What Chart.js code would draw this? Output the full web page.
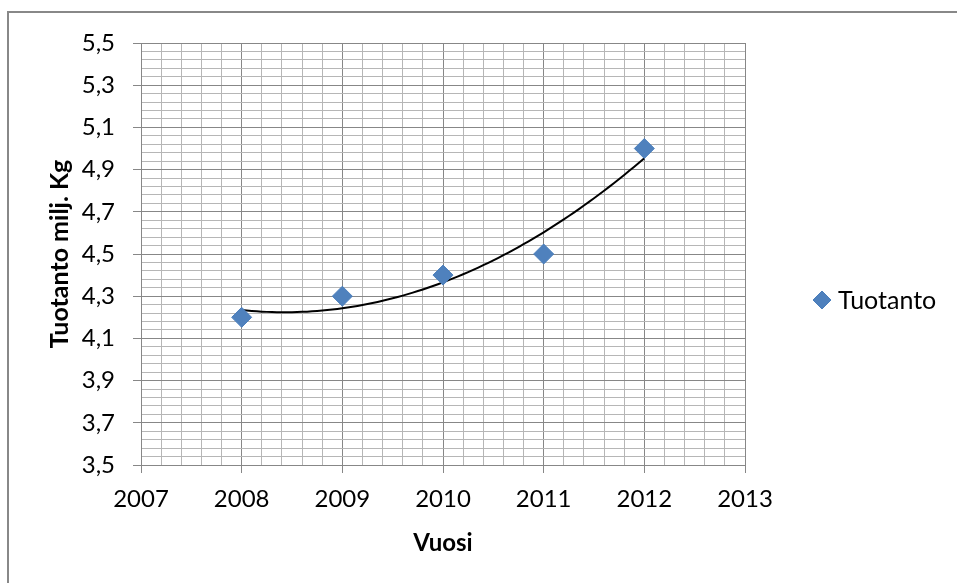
<!DOCTYPE html>
<html>
<head>
<meta charset="utf-8">
<title>Tuotanto</title>
<script src="https://cdn.jsdelivr.net/npm/chart.js@4/dist/chart.umd.min.js"></script>
<style>
  html, body { margin: 0; padding: 0; background: #fff; }
  #wrap { width: 957px; height: 583px; }
</style>
</head>
<body>
<div id="wrap"><canvas id="c" width="957" height="583"></canvas></div>
<script>
// Production by year (million kg)
const years = [2008, 2009, 2010, 2011, 2012];
const production = [4.2, 4.3, 4.4, 4.5, 5.0];
const seriesName = 'Tuotanto';
const xTitle = 'Vuosi';
const yTitle = 'Tuotanto milj. Kg';

const X_MIN = 2007, X_MAX = 2013, X_MAJOR = 1, X_MINOR = 0.2;
const Y_MIN = 3.5, Y_MAX = 5.5, Y_MAJOR = 0.2, Y_MINOR = 0.04;

const FONT = 'Lato, "Open Sans", sans-serif';
const BLUE = '#4F81BD';
const MAJOR = '#878787';
const MINOR = '#B6B6B6';

// Second-order least-squares trendline through the series
function quadFit(xs, ys) {
  const n = xs.length;
  const x0 = xs.reduce((a, b) => a + b, 0) / n;
  let s = [0, 0, 0, 0, 0], t = [0, 0, 0];
  xs.forEach((x, i) => {
    const d = x - x0;
    for (let k = 0; k <= 4; k++) s[k] += Math.pow(d, k);
    for (let k = 0; k <= 2; k++) t[k] += Math.pow(d, k) * ys[i];
  });
  // Solve 3x3 normal equations (Cramer's rule)
  const M = [[s[0], s[1], s[2]], [s[1], s[2], s[3]], [s[2], s[3], s[4]]];
  const det3 = m => m[0][0]*(m[1][1]*m[2][2]-m[1][2]*m[2][1]) - m[0][1]*(m[1][0]*m[2][2]-m[1][2]*m[2][0]) + m[0][2]*(m[1][0]*m[2][1]-m[1][1]*m[2][0]);
  const D = det3(M);
  const coef = [0, 1, 2].map(c => det3(M.map((row, r) => row.map((v, j) => j === c ? t[r] : v))) / D);
  return x => { const d = x - x0; return coef[0] + coef[1] * d + coef[2] * d * d; };
}
const trend = quadFit(years, production);
const trendPts = [];
for (let i = 0; i <= 80; i++) {
  const x = years[0] + (years[years.length - 1] - years[0]) * i / 80;
  trendPts.push({ x: x, y: trend(x) });
}

// true when v sits on a major step counted from the axis minimum
const onStep = (v, base, step) => { const q = (v - base) / step; return Math.abs(q - Math.round(q)) < 1e-6; };

// Outer frame of the chart area and the legend entry
const framePlugin = {
  id: 'frame',
  afterDraw(chart) {
    const ctx = chart.ctx;
    ctx.save();
    ctx.strokeStyle = '#888888';
    ctx.lineWidth = 2;
    ctx.beginPath();
    ctx.moveTo(8, 583);
    ctx.lineTo(8, 12);
    ctx.lineTo(957, 12);
    ctx.stroke();
    // legend
    ctx.fillStyle = BLUE;
    ctx.strokeStyle = '#4A7EBB';
    ctx.lineWidth = 1;
    Chart.helpers.drawPoint(ctx, { pointStyle: 'rectRot', radius: 9, borderWidth: 1 }, 822, 300);
    ctx.fillStyle = '#000';
    ctx.font = '25px ' + FONT;
    ctx.textBaseline = 'middle';
    ctx.textAlign = 'left';
    ctx.fillText(seriesName, 838, 301);
    ctx.restore();
  }
};

new Chart(document.getElementById('c'), {
  type: 'scatter',
  data: {
    datasets: [
      {
        label: seriesName,
        data: years.map((y, i) => ({ x: y, y: production[i] })),
        pointStyle: 'rectRot',
        pointRadius: 10,
        pointHoverRadius: 10,
        backgroundColor: BLUE,
        borderColor: '#4A7EBB',
        borderWidth: 1,
        showLine: false
      },
      {
        label: 'trend',
        data: trendPts,
        showLine: true,
        pointRadius: 0,
        borderColor: '#000000',
        borderWidth: 2,
        tension: 0,
        fill: false
      }
    ]
  },
  options: {
    responsive: false,
    devicePixelRatio: 1,
    animation: false,
    layout: { padding: { left: 0, top: 43, right: 212, bottom: 0 } },
    plugins: { legend: { display: false }, tooltip: { enabled: false } },
    scales: {
      x: {
        type: 'linear',
        min: X_MIN,
        max: X_MAX,
        afterFit(s) { s.height = 118; },
        border: { color: MAJOR, width: 1 },
        grid: {
          color: c => onStep(c.tick.value, X_MIN, X_MAJOR) ? MAJOR : MINOR,
          lineWidth: 1,
          tickLength: 8,
          tickColor: c => onStep(c.tick.value, X_MIN, X_MAJOR) ? MAJOR : 'rgba(0,0,0,0)'
        },
        ticks: {
          stepSize: X_MINOR,
          autoSkip: false,
          maxRotation: 0,
          maxTicksLimit: 100,
          padding: 12,
          color: '#000',
          font: { family: FONT, size: 24 },
          callback: v => onStep(v, X_MIN, X_MAJOR) ? String(Math.round(v)) : ''
        },
        title: {
          display: true,
          text: xTitle,
          color: '#000',
          font: { family: FONT, size: 24, weight: 'bold' },
          padding: { top: 0, bottom: 25 }
        }
      },
      y: {
        type: 'linear',
        min: Y_MIN,
        max: Y_MAX,
        afterFit(s) { s.width = 141; },
        border: { color: MAJOR, width: 1 },
        grid: {
          color: c => onStep(c.tick.value, Y_MIN, Y_MAJOR) ? MAJOR : MINOR,
          lineWidth: 1,
          tickLength: 8,
          tickColor: c => onStep(c.tick.value, Y_MIN, Y_MAJOR) ? MAJOR : 'rgba(0,0,0,0)'
        },
        ticks: {
          stepSize: Y_MINOR,
          autoSkip: false,
          maxTicksLimit: 100,
          padding: 18,
          color: '#000',
          font: { family: FONT, size: 24 },
          callback: v => onStep(v, Y_MIN, Y_MAJOR) ? v.toFixed(1).replace('.', ',') : ''
        },
        title: {
          display: true,
          text: yTitle,
          color: '#000',
          font: { family: FONT, size: 25, weight: 'bold' },
          padding: { top: 45, bottom: 0 }
        }
      }
    }
  },
  plugins: [framePlugin]
});
</script>
</body>
</html>
